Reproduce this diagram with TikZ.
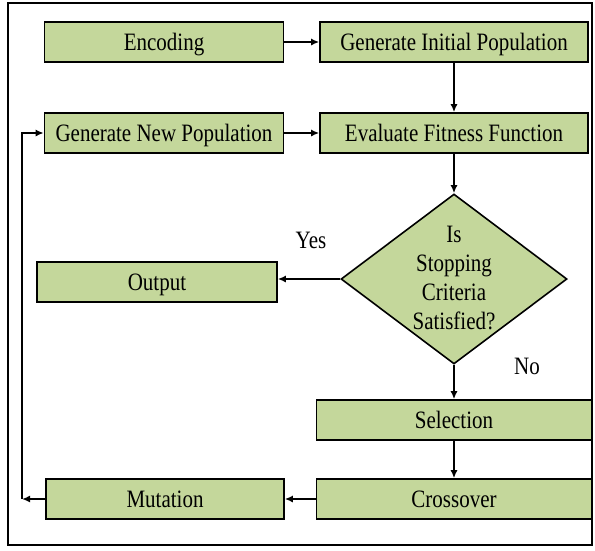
\documentclass[tikz,border=0pt]{standalone}
\usepackage{fontspec}
\setmainfont{Liberation Serif}[FakeStretch=0.84]
\usetikzlibrary{shapes.geometric,arrows.meta}
\definecolor{boxgreen}{HTML}{C4D79B}
\begin{document}
\begin{tikzpicture}[x=1pt,y=-1pt,line width=1.6pt,font=\fontsize{25}{29}\selectfont]
  \tikzstyle{block}=[draw,fill=boxgreen,inner sep=0pt,minimum height=40pt,text height=20pt,text depth=3pt]
  \tikzstyle{decision}=[diamond,draw,fill=boxgreen,inner sep=0pt,minimum width=226pt,minimum height=170pt]
  \tikzstyle{tag}=[inner sep=0pt]
  \tikzstyle{line}=[draw,-{Latex[length=8pt,width=7pt]}]
  \useasboundingbox (0,0) rectangle (595,550);
  % frame
  \draw (8,3) rectangle (592,545);
  % top rows
  \node[block,minimum width=239pt] (enc) at (164,42) {Encoding};
  \node[block,minimum width=268pt] (gip) at (454,42) {Generate Initial Population};
  \node[block,minimum width=239pt] (gnp) at (164,133) {Generate New Population};
  \node[block,minimum width=268pt] (eff) at (454,133) {Evaluate Fitness Function};
  % decision
  \node[decision] (stop) at (454,279) {\smash{\makebox[0pt]{\raisebox{-7pt}{\begin{tabular}{@{}c@{}}Is\\Stopping\\Criteria\\Satisfied?\end{tabular}}}}};
  \node[block,minimum width=240pt] (out) at (157,282) {Output};
  \node[tag] (yes) at (311,240) {Yes};
  \node[tag] (no) at (527,366) {No};
  % bottom rows
  \node[block,minimum width=275pt] (sel) at (454,420) {Selection};
  \node[block,minimum width=275pt] (cro) at (454,499) {Crossover};
  \node[block,minimum width=238pt] (mut) at (165,499) {Mutation};
  \coordinate (back) at (22,499);
  % arrows
  \path[line] (enc) -- (gip);
  \path[line] (gip) -- (eff);
  \path[line] (gnp) -- (eff);
  \path[line] (eff) -- (stop);
  \path[line] (stop.west) -- (stop.west -| out.east);
  \path[line] (stop) -- (sel);
  \path[line] (sel) -- (cro);
  \path[line] (cro) -- (mut);
  \path[line] (mut) -- (back);
  \path[line] (back) |- (gnp);
\end{tikzpicture}
\end{document}
